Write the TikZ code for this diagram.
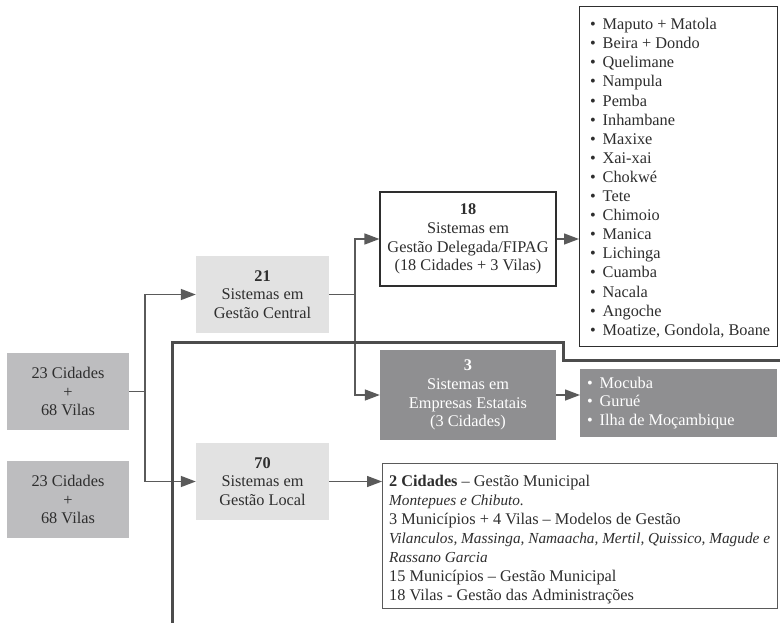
\documentclass[tikz,border=0pt]{standalone}
\usepackage{fontspec}
\setmainfont{Liberation Serif}
\usetikzlibrary{arrows.meta}
\definecolor{boxA}{HTML}{BDBDBF}
\definecolor{boxB}{HTML}{E2E2E2}
\definecolor{boxC}{HTML}{8F8F91}
\definecolor{linec}{HTML}{5A5A5A}
\definecolor{txt}{HTML}{2E2E2E}
\newcommand\itm{\makebox[12.5pt][l]{\textbullet}}
\newcommand\itl[1]{{\fontsize{15.3}{19}\selectfont\itshape #1}}
\begin{document}
\begin{tikzpicture}[x=1pt,y=-1pt,
  every node/.style={font={\fontsize{16.3}{18.8}\selectfont}, text=txt, inner sep=0pt, align=center},
  gbox/.style={fill=boxA, minimum width=122pt, minimum height=77pt},
  lbox/.style={fill=boxB, minimum width=133pt, minimum height=77pt},
  dbox/.style={fill=boxC, text=white},
  obox/.style={draw=txt, line width=1.1pt, fill=white},
  tblock/.style={anchor=west, align=left},
  conn/.style={draw=linec, line width=1.4pt},
  arr/.style={conn, -{Triangle[length=15pt,width=11pt]}},
  divider/.style={draw=linec!85!black, line width=3pt}
]
\useasboundingbox[fill=white] (0,0) rectangle (780,622);

\node[gbox] (L1) at (68,391.5) {23 Cidades\\+\\68 Vilas};
\node[gbox] (L2) at (68,499.5) {23 Cidades\\+\\68 Vilas};
\node[lbox] (C21) at (262.5,294.5) {\textbf{21}\\Sistemas em\\Gestão Central};
\node[lbox] (C70) at (262.5,481.5) {\textbf{70}\\Sistemas em\\Gestão Local};
\node[obox, minimum width=176pt, minimum height=94pt] (D18) at (468,239)
  {\textbf{18}\\Sistemas em\\Gestão Delegada/FIPAG\\(18 Cidades + 3 Vilas)};
\node[dbox, minimum width=176pt, minimum height=90pt] (E3) at (468,395)
  {\textbf{3}\\Sistemas em\\Empresas Estatais\\(3 Cidades)};

% list of FIPAG cities
\node[obox, anchor=north west, minimum width=198pt, minimum height=340pt] (LIST) at (579,6) {};
\node[tblock, font={\fontsize{16.3}{19.1}\selectfont}] (LISTT) at (590,178)
  {\itm Maputo + Matola\\
   \itm Beira + Dondo\\
   \itm Quelimane\\
   \itm Nampula\\
   \itm Pemba\\
   \itm Inhambane\\
   \itm Maxixe\\
   \itm Xai-xai\\
   \itm Chokwé\\
   \itm Tete\\
   \itm Chimoio\\
   \itm Manica\\
   \itm Lichinga\\
   \itm Cuamba\\
   \itm Nacala\\
   \itm Angoche\\
   \itm Moatize, Gondola, Boane};

% state companies
\node[dbox, anchor=north west, minimum width=197pt, minimum height=68pt] (MOC) at (580,369) {};
\node[tblock, text=white] (MOCT) at (587,403)
  {\itm Mocuba\\ \itm Gurué\\ \itm Ilha de Moçambique};

% local management
\node[draw=linec, line width=1.1pt, fill=white, anchor=north west, minimum width=395pt, minimum height=145pt] (LOC) at (382,463) {};
\node[tblock, font={\fontsize{16.3}{19}\selectfont}] (LOCT) at (389,540)
  {\textbf{2 Cidades} – Gestão Municipal\\
   \itl{Montepues e Chibuto.}\\
   3 Municípios + 4 Vilas – Modelos de Gestão\\
   \itl{Vilanculos, Massinga, Namaacha, Mertil, Quissico, Magude e}\\
   \itl{Rassano Garcia}\\
   15 Municípios – Gestão Municipal\\
   18 Vilas - Gestão das Administrações};

\coordinate (j1) at (145,0);
\coordinate (j2) at (355,0);
\path[conn] (L1.east) -- (L1.east -| j1);
\path[arr] (L1.east -| j1) |- (C21.west);
\path[arr] (L1.east -| j1) |- (C70.west);
\path[conn] (C21.east) -- (C21.east -| j2);
\path[arr] (C21.east -| j2) |- (D18.west);
\path[arr] (C21.east -| j2) |- (E3.west);
\path[arr] (D18.east) -- (D18.east -| LIST.west);
\path[arr] (E3.east) -- (E3.east -| MOC.west);
\path[arr] (C70.east) -- (C70.east -| LOC.west);

\path[divider] (172,626) -- (172,342) -- (563,342) -- (563,360) -- (784,360);
\end{tikzpicture}
\end{document}
